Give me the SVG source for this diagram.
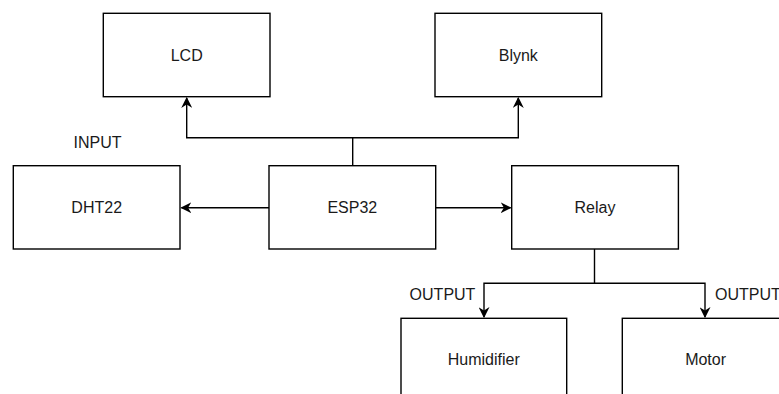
<svg xmlns="http://www.w3.org/2000/svg" width="779" height="394" viewBox="0 0 779 394">
<defs>
<marker id="arr" viewBox="0 0 10 10" refX="9" refY="5" markerWidth="11" markerHeight="11" markerUnits="userSpaceOnUse" orient="auto">
<path d="M0,0 L10,5 L0,10 L3,5 Z" fill="#000"/>
</marker>
</defs>
<style>
.box{fill:#fff;stroke:#000;stroke-width:1.4}
.t{font-family:"Liberation Sans",Arial,sans-serif;font-size:16px;fill:#1a1a1a;text-anchor:middle;dominant-baseline:central}
.c{fill:none;stroke:#000;stroke-width:1.4}
</style>
<rect width="779" height="394" fill="#fff"/>
<g id="connectors">
<path class="c" d="M352.7,165.7 V137.7 H186.7 V98" marker-end="url(#arr)"/>
<path class="c" d="M352.7,137.7 H518.3 V98" marker-end="url(#arr)"/>
<path class="c" d="M269,207.7 H181.5" marker-end="url(#arr)"/>
<path class="c" d="M435.7,207.7 H510.5" marker-end="url(#arr)"/>
<path class="c" d="M594.5,249 V283.3 H484 V317" marker-end="url(#arr)"/>
<path class="c" d="M594.5,283.3 H705 V317" marker-end="url(#arr)"/>
</g>
<g id="lcd"><rect class="box" x="103.3" y="13.3" width="166.7" height="83.4"/><text class="t" x="186.7" y="55">LCD</text></g>
<g id="blynk"><rect class="box" x="435" y="13.3" width="166.7" height="83.4"/><text class="t" x="518.3" y="55">Blynk</text></g>
<g id="input-label"><text class="t" x="97.5" y="142.7">INPUT</text></g>
<g id="dht22"><rect class="box" x="13.3" y="165.7" width="166.7" height="83.3"/><text class="t" x="96.7" y="207.7">DHT22</text></g>
<g id="esp32"><rect class="box" x="269" y="165.7" width="166.7" height="83.3"/><text class="t" x="352.3" y="207.7">ESP32</text></g>
<g id="relay"><rect class="box" x="511.7" y="165.7" width="166.7" height="83.3"/><text class="t" x="595" y="207.7">Relay</text></g>
<g id="output-left"><text class="t" x="442.5" y="294.3">OUTPUT</text></g>
<g id="output-right"><text class="t" x="715" y="294.3" style="text-anchor:start">OUTPUT</text></g>
<g id="humidifier"><rect class="box" x="401" y="318.3" width="165.7" height="100"/><text class="t" x="483.8" y="359.5">Humidifier</text></g>
<g id="motor"><rect class="box" x="622.3" y="318.3" width="166.7" height="100"/><text class="t" x="705.6" y="359.5">Motor</text></g>
</svg>
